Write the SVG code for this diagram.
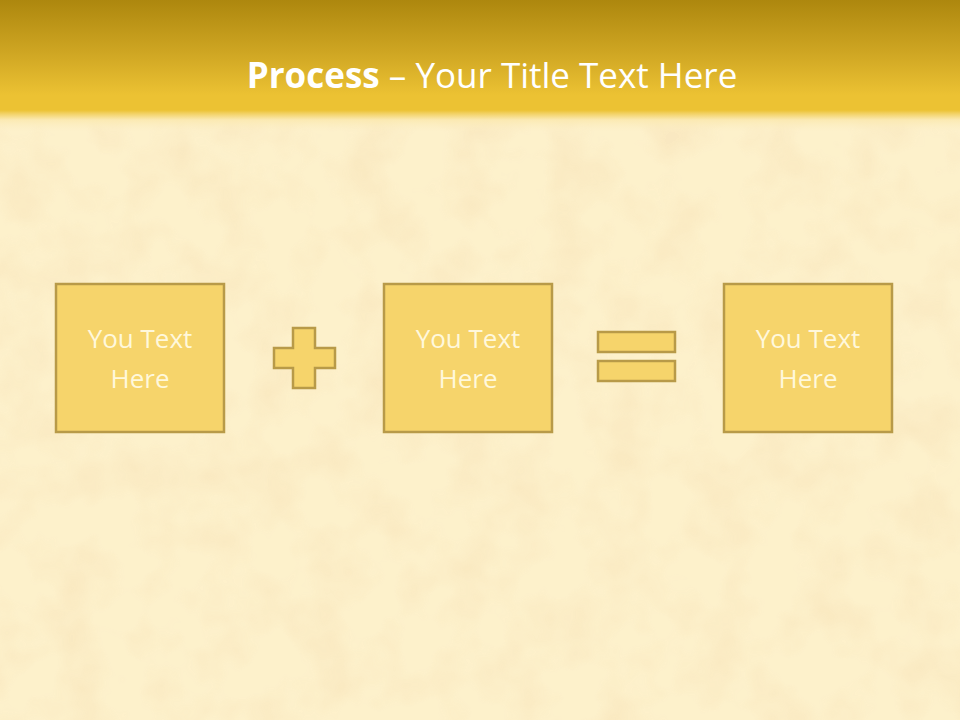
<svg xmlns="http://www.w3.org/2000/svg" width="960" height="720" viewBox="0 0 960 720">
  <defs>
    <linearGradient id="hdr" x1="0" y1="0" x2="0" y2="1">
      <stop offset="0" stop-color="#ad870e"/>
      <stop offset="0.5" stop-color="#d1a824"/>
      <stop offset="0.85" stop-color="#ecc233"/>
      <stop offset="1" stop-color="#ecc233"/>
    </linearGradient>
    <linearGradient id="fade" x1="0" y1="0" x2="0" y2="1">
      <stop offset="0" stop-color="#ecc233" stop-opacity="1"/>
      <stop offset="0.45" stop-color="#fbe9b0" stop-opacity="0.9"/>
      <stop offset="1" stop-color="#fcefc5" stop-opacity="0"/>
    </linearGradient>
    <filter id="tex" x="0" y="0" width="100%" height="100%">
      <feTurbulence type="fractalNoise" baseFrequency="0.02" numOctaves="3" seed="4" result="n"/>
      <feColorMatrix in="n" type="matrix" values="0 0 0 0 0.95  0 0 0 0 0.80  0 0 0 0 0.52  0 0 0 2.2 -0.9"/>
    </filter>
    <style>
      .box { fill: #f6d46b; stroke: #b89a48; stroke-width: 2.5; }
      .op { fill: #f6d46b; stroke: #b89a48; stroke-width: 2.5; }
      .lbl { font-family: "Open Sans", "Noto Sans", sans-serif; font-size: 26px; fill: #fff8dc; text-anchor: middle; }
      .title { font-family: "Open Sans", "Noto Sans", sans-serif; font-size: 35px; fill: #ffffff; text-anchor: middle; }
    </style>
  </defs>

  <rect x="0" y="0" width="960" height="720" fill="#fdf1cb"/>
  <rect x="0" y="0" width="960" height="720" filter="url(#tex)" opacity="0.8"/>
  <rect x="0" y="0" width="960" height="112" fill="url(#hdr)"/>
  <rect x="0" y="110" width="960" height="22" fill="url(#fade)"/>

  <text class="title" x="492" y="88"><tspan font-weight="bold">Process</tspan> – Your Title Text Here</text>

  <g id="box1">
    <rect class="box" x="56" y="284" width="168" height="148"/>
    <text class="lbl" x="140" y="348">You Text</text>
    <text class="lbl" x="140" y="388">Here</text>
  </g>
  <g id="plus">
    <path class="op" d="M293,328 H315 V348 H335 V368 H315 V388 H293 V368 H274 V348 H293 Z"/>
  </g>
  <g id="box2">
    <rect class="box" x="384" y="284" width="168" height="148"/>
    <text class="lbl" x="468" y="348">You Text</text>
    <text class="lbl" x="468" y="388">Here</text>
  </g>
  <g id="equals">
    <rect class="op" x="598" y="332" width="77" height="20"/>
    <rect class="op" x="598" y="361" width="77" height="20"/>
  </g>
  <g id="box3">
    <rect class="box" x="724" y="284" width="168" height="148"/>
    <text class="lbl" x="808" y="348">You Text</text>
    <text class="lbl" x="808" y="388">Here</text>
  </g>
  <g id="connectors"/>
</svg>
